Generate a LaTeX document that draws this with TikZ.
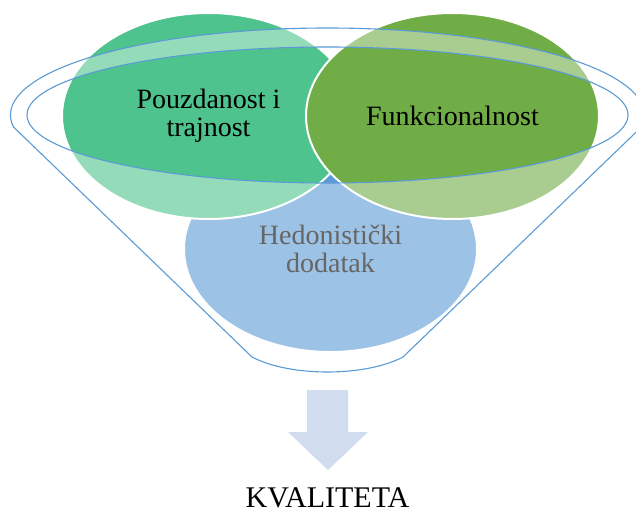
\documentclass[tikz,border=0pt]{standalone}
\usepackage{fontspec}
\setmainfont{Liberation Serif}
\usepackage{xcolor}
\usetikzlibrary{positioning, shapes.geometric}

\definecolor{rimblue}{HTML}{5B9BD5}
\definecolor{leafgreen}{HTML}{4EC38D}
\definecolor{olivegreen}{HTML}{70AD47}
\definecolor{hedonblue}{HTML}{5B9BD5}
\definecolor{arrowblue}{HTML}{D1DDEF}

\tikzset{
  bubble/.style={
    ellipse, draw=white, line width=2pt, fill=#1,
    minimum width=293pt, minimum height=206pt, inner sep=0pt,
    align=center, font=\fontsize{28}{28}\selectfont
  },
  rim/.style={draw=rimblue, line width=1.1pt},
  veil/.style={fill=white, fill opacity=0.4, even odd rule},
  downarrow/.style={fill=arrowblue}
}

\begin{document}
\begin{tikzpicture}[x=1pt, y=1pt]
\useasboundingbox (0,0) rectangle (636,-513);

%% ── Circles ──────────────────────────────────────────────────
\node[bubble=hedonblue] (hedon) at (330.5,-249) {Hedonistički\\dodatak};
\node[bubble=leafgreen] (reliab) at (208.5,-116) {Pouzdanost i\\trajnost};
\node[bubble=olivegreen] (funct) at (452.5,-116) {Funkcionalnost};

%% ── Funnel ───────────────────────────────────────────────────
\coordinate (lipL) at (13.5,-127);
\coordinate (neckL) at (252,-357);
\coordinate (neckR) at (403,-357);
\coordinate (mouth) at (327.5,-115);

\path[rim, veil] (lipL) arc[start angle=187.93, end angle=-7.93, x radius=317, y radius=87]
  -- (neckR) .. controls (365,-377) and (290,-377) .. (neckL) -- cycle
  (mouth) ellipse[x radius=300.5, y radius=68];

%% ── Arrow down ───────────────────────────────────────────────
\fill[downarrow] (307,-390) -- (348,-390) -- (348,-432) -- (368,-432)
  -- (328,-470) -- (288,-432) -- (307,-432) -- cycle;

\node[anchor=base, font=\fontsize{30}{30}\selectfont] (quality) at (327.5,-507) {KVALITETA};

\end{tikzpicture}
\end{document}
